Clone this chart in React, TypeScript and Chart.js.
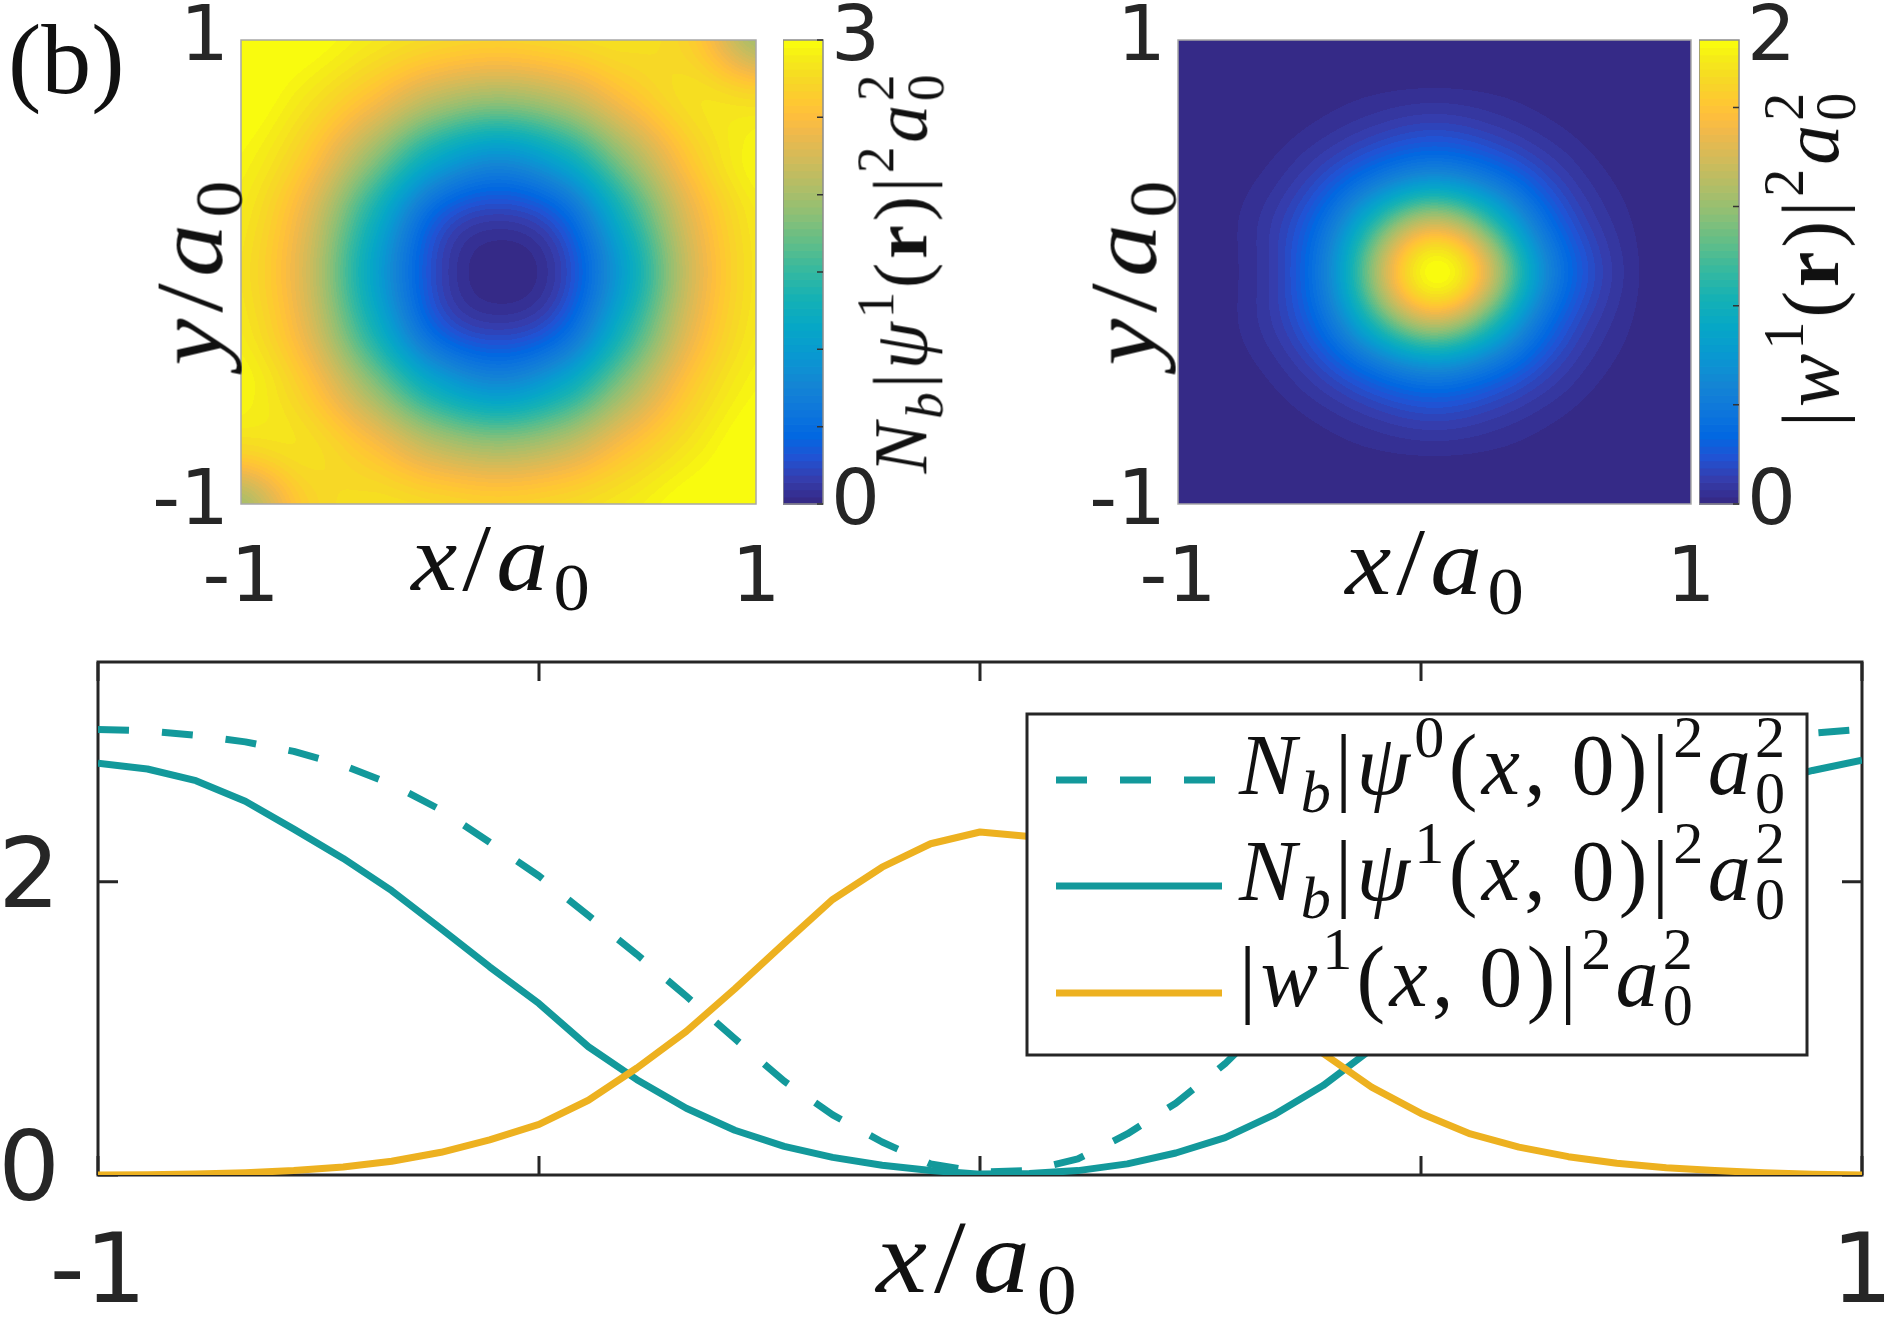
import React, { useEffect, useRef } from 'react';
import { Chart, registerables } from 'chart.js';

Chart.register(...registerables);

// ---------------- data ----------------
const LINE_X = [-1, -0.944, -0.889, -0.833, -0.778, -0.722, -0.667, -0.611, -0.556, -0.5, -0.444, -0.389, -0.333, -0.278, -0.222, -0.167, -0.111, -0.056, 0, 0.056, 0.111, 0.167, 0.222, 0.278, 0.333, 0.389, 0.444, 0.5, 0.556, 0.611, 0.667, 0.722, 0.778, 0.833, 0.889, 0.944, 1];
const PSI0_LINE = [3.04, 3.03, 3.0, 2.955, 2.89, 2.795, 2.665, 2.49, 2.27, 2.04, 1.77, 1.505, 1.22, 0.93, 0.64, 0.41, 0.225, 0.075, 0.02, 0.03, 0.11, 0.28, 0.49, 0.76, 1.09, 1.355, 1.63, 1.9, 2.15, 2.37, 2.57, 2.73, 2.85, 2.925, 2.98, 3.015, 3.04];
const PSI1_LINE = [2.81, 2.77, 2.69, 2.55, 2.36, 2.16, 1.94, 1.68, 1.42, 1.17, 0.875, 0.65, 0.455, 0.305, 0.195, 0.12, 0.066, 0.03, 0.006, 0.01, 0.03, 0.076, 0.15, 0.255, 0.41, 0.61, 0.86, 1.12, 1.38, 1.65, 1.91, 2.14, 2.34, 2.52, 2.67, 2.76, 2.83];
const W1_LINE = [0, 0.002, 0.007, 0.016, 0.03, 0.054, 0.094, 0.155, 0.24, 0.345, 0.51, 0.73, 0.98, 1.27, 1.58, 1.88, 2.1, 2.26, 2.34, 2.31, 2.18, 1.98, 1.72, 1.41, 1.11, 0.83, 0.6, 0.42, 0.28, 0.19, 0.125, 0.08, 0.05, 0.03, 0.015, 0.005, 0];
const LINE_X_TICKS = [-1, -0.5, 0, 0.5, 1];
const LINE_X_LABELS = ['-1', '', '', '', '1'];
const LINE_Y_TICKS = [0, 2];
const LINE_Y_RANGE = [0, 3.5];

const MAP_X = [-1, -0.75, -0.5, -0.25, 0, 0.25, 0.5, 0.75, 1];
const MAP_Y = [1, 0.75, 0.5, 0.25, 0, -0.25, -0.5, -0.75, -1];
const MAP_TICKS = [-1, 1];
const PSI1_MAP = [
  [3.05, 3.02, 2.87, 2.74, 2.68, 2.74, 2.8, 2.65, 2.0],
  [3.05, 2.85, 2.53, 2.13, 1.96, 2.13, 2.53, 2.8, 2.75],
  [2.95, 2.62, 1.95, 1.22, 0.9, 1.22, 1.95, 2.62, 2.95],
  [2.86, 2.36, 1.39, 0.44, 0.19, 0.44, 1.39, 2.36, 2.86],
  [2.81, 2.26, 1.17, 0.25, 0.0, 0.2, 1.12, 2.24, 2.83],
  [2.86, 2.36, 1.39, 0.44, 0.19, 0.44, 1.39, 2.36, 2.86],
  [2.95, 2.62, 1.95, 1.22, 0.9, 1.22, 1.95, 2.62, 2.95],
  [2.75, 2.8, 2.53, 2.13, 1.96, 2.13, 2.53, 2.85, 3.05],
  [2.0, 2.65, 2.8, 2.74, 2.68, 2.74, 2.87, 3.02, 3.05],
];
const W1_MAP = [
  [0, 0, 0, 0, 0, 0, 0, 0, 0],
  [0, 0, 0.013, 0.04, 0.06, 0.04, 0.013, 0, 0],
  [0, 0.013, 0.085, 0.25, 0.38, 0.25, 0.085, 0.013, 0],
  [0, 0.04, 0.25, 0.93, 1.5, 0.93, 0.25, 0.04, 0],
  [0, 0.042, 0.345, 1.43, 2.34, 1.56, 0.42, 0.065, 0],
  [0, 0.04, 0.25, 0.93, 1.5, 0.93, 0.25, 0.04, 0],
  [0, 0.013, 0.085, 0.25, 0.38, 0.25, 0.085, 0.013, 0],
  [0, 0, 0.013, 0.04, 0.06, 0.04, 0.013, 0, 0],
  [0, 0, 0, 0, 0, 0, 0, 0, 0],
];
const PSI1_CB_RANGE = [0, 3];
const W1_CB_RANGE = [0, 2.34];
const PSI1_CB_TICKS = [0, 0.5, 1, 1.5, 2, 2.5, 3];
const W1_CB_TICKS = [0, 0.5, 1, 1.5, 2];
const PSI1_CB_LABELS = ['0', '3'];
const W1_CB_LABELS = ['0', '2'];

// ---------------- style ----------------
const TEAL = '#13999b';
const GOLD = '#edb120';
const AXIS = '#262626';
const SANS = '"DejaVu Sans", sans-serif';
const SERIF = '"Liberation Serif", "Times New Roman", serif';

const PARULA_STOPS = [
  [0, 53, 42, 135], [3, 53, 61, 173], [6, 32, 83, 212], [9, 2, 104, 225], [12, 13, 117, 220],
  [16, 20, 133, 212], [20, 9, 152, 209], [24, 6, 167, 198], [28, 21, 177, 180], [32, 56, 185, 158],
  [36, 101, 190, 134], [40, 146, 191, 115], [44, 183, 189, 100], [48, 217, 186, 86], [51, 241, 185, 74],
  [53, 253, 190, 61], [55, 254, 200, 50], [58, 247, 216, 38], [61, 245, 235, 24], [63, 249, 251, 14],
];
function stopColor(k: number): number[] {
  for (let s = 0; s < PARULA_STOPS.length - 1; s++) {
    const a = PARULA_STOPS[s], b = PARULA_STOPS[s + 1];
    if (k >= a[0] && k <= b[0]) {
      const t = (k - a[0]) / (b[0] - a[0]);
      return [0, 1, 2].map((c) => Math.round(a[c + 1] + (b[c + 1] - a[c + 1]) * t));
    }
  }
  return PARULA_STOPS[PARULA_STOPS.length - 1].slice(1);
}
const PARULA_64 = Array.from({ length: 64 }, (_, k) => stopColor(k));
const rgb = (c: number[]) => `rgb(${c[0]},${c[1]},${c[2]})`;

function cr(p0: number, p1: number, p2: number, p3: number, t: number) {
  return 0.5 * (2 * p1 + (-p0 + p2) * t + (2 * p0 - 5 * p1 + 4 * p2 - p3) * t * t + (-p0 + 3 * p1 - 3 * p2 + p3) * t * t * t);
}
function sampleGrid(grid: number[][], xs: number[], ys: number[], x: number, y: number) {
  const nx = xs.length, ny = ys.length;
  const fx = ((x - xs[0]) / (xs[nx - 1] - xs[0])) * (nx - 1);
  const fy = ((y - ys[0]) / (ys[ny - 1] - ys[0])) * (ny - 1);
  const ix = Math.min(nx - 2, Math.max(0, Math.floor(fx)));
  const iy = Math.min(ny - 2, Math.max(0, Math.floor(fy)));
  const tx = fx - ix, ty = fy - iy;
  const g = (r: number, c: number) => grid[Math.min(ny - 1, Math.max(0, r))][Math.min(nx - 1, Math.max(0, c))];
  const rows: number[] = [];
  for (let k = -1; k <= 2; k++) {
    const r = iy + k;
    rows.push(cr(g(r, ix - 1), g(r, ix), g(r, ix + 1), g(r, ix + 2), tx));
  }
  return cr(rows[0], rows[1], rows[2], rows[3], ty);
}

// logEps > 0: interpolate in log space (smooth, round contours for peaked data)
function makeHeatPlugin(grid: number[][], range: number[], logEps: number) {
  const work = logEps > 0 ? grid.map((row) => row.map((v) => Math.log(v + logEps))) : grid;
  return {
    id: 'heatImage',
    beforeDatasetsDraw(chart: any) {
      const { ctx, chartArea: a, scales } = chart;
      const sx = scales.x, sy = scales.y;
      const L = Math.round(a.left), T = Math.round(a.top);
      const W = Math.round(a.right) - L, H = Math.round(a.bottom) - T;
      const off = document.createElement('canvas');
      off.width = W; off.height = H;
      const octx = off.getContext('2d') as CanvasRenderingContext2D;
      const img = octx.createImageData(W, H);
      const colX: number[] = [], rowY: number[] = [];
      for (let i = 0; i < W; i++) colX.push(sx.getValueForPixel(L + i + 0.5));
      for (let j = 0; j < H; j++) rowY.push(sy.getValueForPixel(T + j + 0.5));
      const span = range[1] - range[0];
      let p = 0;
      for (let j = 0; j < H; j++) {
        for (let i = 0; i < W; i++) {
          let v = sampleGrid(work, MAP_X, MAP_Y, colX[i], rowY[j]);
          if (logEps > 0) v = Math.exp(v) - logEps;
          const t = (v - range[0]) / span;
          const k = Math.max(0, Math.min(63, Math.floor(t * 64)));
          const c = PARULA_64[k];
          img.data[p++] = c[0]; img.data[p++] = c[1]; img.data[p++] = c[2]; img.data[p++] = 255;
        }
      }
      octx.putImageData(img, 0, 0);
      ctx.drawImage(off, L, T);
      ctx.save();
      ctx.strokeStyle = '#a8a8a8';
      ctx.lineWidth = 1.5;
      ctx.strokeRect(L, T, W, H);
      ctx.restore();
    },
  };
}

function makeColorbarPlugin(range: number[], ticks: number[]) {
  return {
    id: 'cbar',
    beforeDatasetsDraw(chart: any) {
      const { ctx, chartArea: a, scales } = chart;
      const y = scales.y;
      const span = range[1] - range[0];
      for (let k = 0; k < 64; k++) {
        const y0 = y.getPixelForValue(range[0] + (span * k) / 64);
        const y1 = y.getPixelForValue(range[0] + (span * (k + 1)) / 64);
        ctx.fillStyle = rgb(PARULA_64[k]);
        ctx.fillRect(a.left, y1, a.right - a.left, y0 - y1 + 0.7);
      }
      ctx.save();
      ctx.strokeStyle = '#8c8c8c';
      ctx.lineWidth = 1.5;
      ctx.strokeRect(a.left, a.top, a.right - a.left, a.bottom - a.top);
      ctx.strokeStyle = '#333';
      ctx.beginPath();
      ticks.forEach((v) => {
        const py = y.getPixelForValue(v);
        ctx.moveTo(a.right, py);
        ctx.lineTo(a.right - 6, py);
      });
      ctx.stroke();
      ctx.restore();
    },
  };
}

const framePlugin = {
  id: 'frame',
  beforeDatasetsDraw(chart: any) {
    const { ctx, chartArea: a, scales } = chart;
    const x = scales.x, y = scales.y;
    ctx.save();
    ctx.strokeStyle = AXIS;
    ctx.lineWidth = 3;
    ctx.strokeRect(a.left, a.top, a.right - a.left, a.bottom - a.top);
    ctx.beginPath();
    x.ticks.forEach((t: any) => {
      const px = x.getPixelForValue(t.value);
      ctx.moveTo(px, a.bottom); ctx.lineTo(px, a.bottom - 19);
      ctx.moveTo(px, a.top); ctx.lineTo(px, a.top + 19);
    });
    y.ticks.forEach((t: any) => {
      const py = y.getPixelForValue(t.value);
      ctx.moveTo(a.left, py); ctx.lineTo(a.left + 20, py);
      ctx.moveTo(a.right, py); ctx.lineTo(a.right - 20, py);
    });
    ctx.stroke();
    ctx.restore();
  },
};

const LEGEND = { rightInset: 55, topInset: 52, width: 780, height: 341, rows: [66, 172, 279], x0: 29, x1: 195 };
const legendPlugin = {
  id: 'mathLegend',
  afterDatasetsDraw(chart: any) {
    const { ctx, chartArea: a } = chart;
    const left = a.right - LEGEND.rightInset - LEGEND.width;
    const top = a.top + LEGEND.topInset;
    ctx.save();
    ctx.fillStyle = '#fff';
    ctx.fillRect(left, top, LEGEND.width, LEGEND.height);
    ctx.strokeStyle = AXIS;
    ctx.lineWidth = 3;
    ctx.strokeRect(left, top, LEGEND.width, LEGEND.height);
    [0, 1, 2].forEach((di, r) => {
      const ds = chart.data.datasets[di];
      ctx.beginPath();
      ctx.strokeStyle = ds.borderColor;
      ctx.lineWidth = ds.borderWidth;
      ctx.setLineDash(ds.borderDash || []);
      ctx.lineCap = 'butt';
      ctx.moveTo(left + LEGEND.x0, top + LEGEND.rows[r]);
      ctx.lineTo(left + LEGEND.x1, top + LEGEND.rows[r]);
      ctx.stroke();
    });
    ctx.restore();
  },
};

// ---------------- text helpers ----------------
const it = (s: any) => <span style={{ fontStyle: 'italic' }}>{s}</span>;
const sub = (s: any) => <span style={{ fontSize: '0.7em', position: 'relative', top: '0.3em' }}>{s}</span>;
const sup = (s: any) => <span style={{ fontSize: '0.7em', position: 'relative', top: '-0.62em' }}>{s}</span>;
const subsup = (b: any, t: any) => (
  <span style={{ display: 'inline-flex', flexDirection: 'column', fontSize: '0.7em', lineHeight: 0.93, position: 'relative', top: '-0.62em', verticalAlign: 'baseline' }}>
    <span>{t}</span>
    <span>{b}</span>
  </span>
);

function Txt(props: { x: number; y: number; size: number; rotate?: boolean; align?: string; spacing?: string; stretch?: number; children: any }) {
  const { x, y, size, rotate, align, spacing, stretch, children } = props;
  const tx = align === 'left' ? '0' : '-50%';
  return (
    <div style={{ position: 'absolute', left: x, top: y, width: 0, height: 0 }}>
      <div
        style={{
          position: 'absolute', left: 0, top: 0, transformOrigin: '0 0',
          transform: `${rotate ? 'rotate(-90deg) ' : ''}scaleX(${stretch || 1}) translate(${tx}, -0.8375em)`,
          fontFamily: SERIF, fontSize: size, lineHeight: 1, whiteSpace: 'nowrap', color: '#111',
          letterSpacing: spacing || '0',
        }}
      >
        {children}
      </div>
    </div>
  );
}

const xOverA = <>{it('x')}/{it('a')}{sub('0')}</>;
const yOverA = <>{it('y')}/{it('a')}{sub('0')}</>;

function tickFont(size: number, lh: number) {
  return { size, family: SANS, lineHeight: lh };
}

function zeroPad(s: any) {
  s.paddingLeft = 0; s.paddingRight = 0; s.paddingTop = 0; s.paddingBottom = 0;
}

export default function App() {
  const lineRef = useRef<HTMLCanvasElement>(null);
  const map1Ref = useRef<HTMLCanvasElement>(null);
  const map2Ref = useRef<HTMLCanvasElement>(null);
  const cb1Ref = useRef<HTMLCanvasElement>(null);
  const cb2Ref = useRef<HTMLCanvasElement>(null);

  useEffect(() => {
    const charts: Chart[] = [];

    const mapChart = (canvas: HTMLCanvasElement, grid: number[][], range: number[], yWidth: number, padRight: number, logEps: number) =>
      new Chart(canvas, {
        type: 'scatter',
        data: { datasets: [] },
        options: {
          responsive: false, animation: false, maintainAspectRatio: false,
          layout: { padding: { top: 40, right: padRight, left: 0, bottom: 0 } },
          plugins: { legend: { display: false }, tooltip: { enabled: false } },
          scales: {
            x: {
              type: 'linear', min: -1, max: 1,
              afterBuildTicks: (s: any) => { s.ticks = MAP_TICKS.map((v) => ({ value: v })); },
              ticks: { callback: (v: any) => String(v), font: tickFont(77, 1), color: AXIS, padding: 38, maxRotation: 0, autoSkip: false },
              grid: { display: false, drawTicks: false }, border: { display: false },
              afterFit: (s: any) => { s.height = 136; zeroPad(s); },
            },
            y: {
              type: 'linear', min: -1, max: 1,
              afterBuildTicks: (s: any) => { s.ticks = MAP_TICKS.map((v) => ({ value: v })); },
              ticks: { callback: (v: any) => String(v), font: tickFont(77, 0.6), color: AXIS, padding: 12, autoSkip: false },
              grid: { display: false, drawTicks: false }, border: { display: false },
              afterFit: (s: any) => { s.width = yWidth; zeroPad(s); },
            },
          },
        } as any,
        plugins: [makeHeatPlugin(grid, range, logEps)],
      });

    const cbChart = (canvas: HTMLCanvasElement, range: number[], ticks: number[], labels: string[]) =>
      new Chart(canvas, {
        type: 'scatter',
        data: { datasets: [] },
        options: {
          responsive: false, animation: false, maintainAspectRatio: false,
          layout: { padding: { top: 40, right: 0, left: 0, bottom: 56 } },
          plugins: { legend: { display: false }, tooltip: { enabled: false } },
          scales: {
            x: { display: false, min: 0, max: 1 },
            y: {
              type: 'linear', position: 'right', min: range[0], max: range[1],
              afterBuildTicks: (s: any) => { s.ticks = [{ value: range[0] }, { value: range[1] }]; },
              ticks: { callback: (v: any) => (v === range[0] ? labels[0] : labels[1]), font: tickFont(77, 0.6), color: AXIS, padding: 8, autoSkip: false },
              grid: { display: false, drawTicks: false }, border: { display: false },
              afterFit: (s: any) => { s.width = 70; zeroPad(s); },
            },
          },
        } as any,
        plugins: [makeColorbarPlugin(range, ticks)],
      });

    if (map1Ref.current) charts.push(mapChart(map1Ref.current, PSI1_MAP, PSI1_CB_RANGE, 131, 44, 0));
    if (map2Ref.current) charts.push(mapChart(map2Ref.current, W1_MAP, W1_CB_RANGE, 128, 49, 0.004));
    if (cb1Ref.current) charts.push(cbChart(cb1Ref.current, PSI1_CB_RANGE, PSI1_CB_TICKS, PSI1_CB_LABELS));
    if (cb2Ref.current) charts.push(cbChart(cb2Ref.current, W1_CB_RANGE, W1_CB_TICKS, W1_CB_LABELS));

    if (lineRef.current) {
      const pts = (ys: number[]) => LINE_X.map((x, i) => ({ x, y: ys[i] }));
      charts.push(
        new Chart(lineRef.current, {
          type: 'line',
          data: {
            datasets: [
              { label: 'psi0', data: pts(PSI0_LINE), borderColor: TEAL, borderWidth: 7, borderDash: [31, 33], pointRadius: 0, tension: 0, fill: false, order: 2, borderCapStyle: 'butt', borderJoinStyle: 'round' },
              { label: 'psi1', data: pts(PSI1_LINE), borderColor: TEAL, borderWidth: 7, pointRadius: 0, tension: 0, fill: false, order: 1, borderCapStyle: 'butt', borderJoinStyle: 'round' },
              { label: 'w1', data: pts(W1_LINE), borderColor: GOLD, borderWidth: 7, pointRadius: 0, tension: 0, fill: false, order: 0, borderCapStyle: 'butt', borderJoinStyle: 'round' },
            ],
          },
          options: {
            responsive: false, animation: false, maintainAspectRatio: false,
            layout: { padding: { top: 22, right: 28, left: 0, bottom: 0 } },
            plugins: { legend: { display: false }, tooltip: { enabled: false } },
            scales: {
              x: {
                type: 'linear', min: -1, max: 1,
                afterBuildTicks: (s: any) => { s.ticks = LINE_X_TICKS.map((v) => ({ value: v })); },
                ticks: { callback: (v: any) => LINE_X_LABELS[LINE_X_TICKS.indexOf(v)] ?? '', font: tickFont(97, 1), color: AXIS, padding: 53, maxRotation: 0, autoSkip: false },
                grid: { display: false, drawTicks: false }, border: { display: false },
                afterFit: (s: any) => { s.height = 149; zeroPad(s); },
              },
              y: {
                type: 'linear', min: LINE_Y_RANGE[0], max: LINE_Y_RANGE[1],
                afterBuildTicks: (s: any) => { s.ticks = LINE_Y_TICKS.map((v) => ({ value: v })); },
                ticks: { callback: (v: any) => String(v), font: tickFont(97, 0.4), color: AXIS, padding: 38, autoSkip: false },
                grid: { display: false, drawTicks: false }, border: { display: false },
                afterFit: (s: any) => { s.width = 98; zeroPad(s); },
              },
            },
          } as any,
          plugins: [framePlugin, legendPlugin],
        })
      );
    }
    return () => charts.forEach((c) => c.destroy());
  }, []);

  const cv = (left: number, top: number, w: number, h: number) => ({ position: 'absolute' as const, left, top, width: w, height: h });

  return (
    <div style={{ position: 'fixed', left: 0, top: 0, width: 1890, height: 1324, background: '#fff', overflow: 'hidden' }}>
      <canvas ref={map1Ref} width={690} height={640} style={cv(110, 0, 690, 640)} />
      <canvas ref={cb1Ref} width={110} height={560} style={cv(783, 0, 110, 560)} />
      <canvas ref={map2Ref} width={690} height={640} style={cv(1050, 0, 690, 640)} />
      <canvas ref={cb2Ref} width={110} height={560} style={cv(1699, 0, 110, 560)} />
      <canvas ref={lineRef} width={1890} height={684} style={cv(0, 640, 1890, 684)} />

      <Txt x={8} y={94} size={100} align="left">(b)</Txt>

      <Txt x={222} y={270} size={96} rotate stretch={1.1} spacing="0.06em">{yOverA}</Txt>
      <Txt x={503} y={590} size={96} stretch={1.08} spacing="0.05em">{xOverA}</Txt>
      <Txt x={926} y={272} size={76} rotate stretch={1.0} spacing="0.05em">
        {it('N')}{sub(it('b'))}|{it('ψ')}{sup('1')}(<b>r</b>)|{sup('2')}{it('a')}{subsup('0', '2')}
      </Txt>

      <Txt x={1156} y={270} size={96} rotate stretch={1.1} spacing="0.06em">{yOverA}</Txt>
      <Txt x={1437} y={594} size={96} stretch={1.08} spacing="0.05em">{xOverA}</Txt>
      <Txt x={1838} y={258} size={80} rotate stretch={1.0} spacing="0.05em">
        |{it('w')}{sup('1')}(<b>r</b>)|{sup('2')}{it('a')}{subsup('0', '2')}
      </Txt>

      <Txt x={980} y={1292} size={104} stretch={1.1} spacing="0.06em">{xOverA}</Txt>

      <Txt x={1239} y={794} size={86} align="left" spacing="0.05em">
        {it('N')}{sub(it('b'))}|{it('ψ')}{sup('0')}({it('x')},&#8201;0)|{sup('2')}{it('a')}{subsup('0', '2')}
      </Txt>
      <Txt x={1239} y={900} size={86} align="left" spacing="0.05em">
        {it('N')}{sub(it('b'))}|{it('ψ')}{sup('1')}({it('x')},&#8201;0)|{sup('2')}{it('a')}{subsup('0', '2')}
      </Txt>
      <Txt x={1239} y={1006} size={86} align="left" spacing="0.05em">
        |{it('w')}{sup('1')}({it('x')},&#8201;0)|{sup('2')}{it('a')}{subsup('0', '2')}
      </Txt>
    </div>
  );
}
